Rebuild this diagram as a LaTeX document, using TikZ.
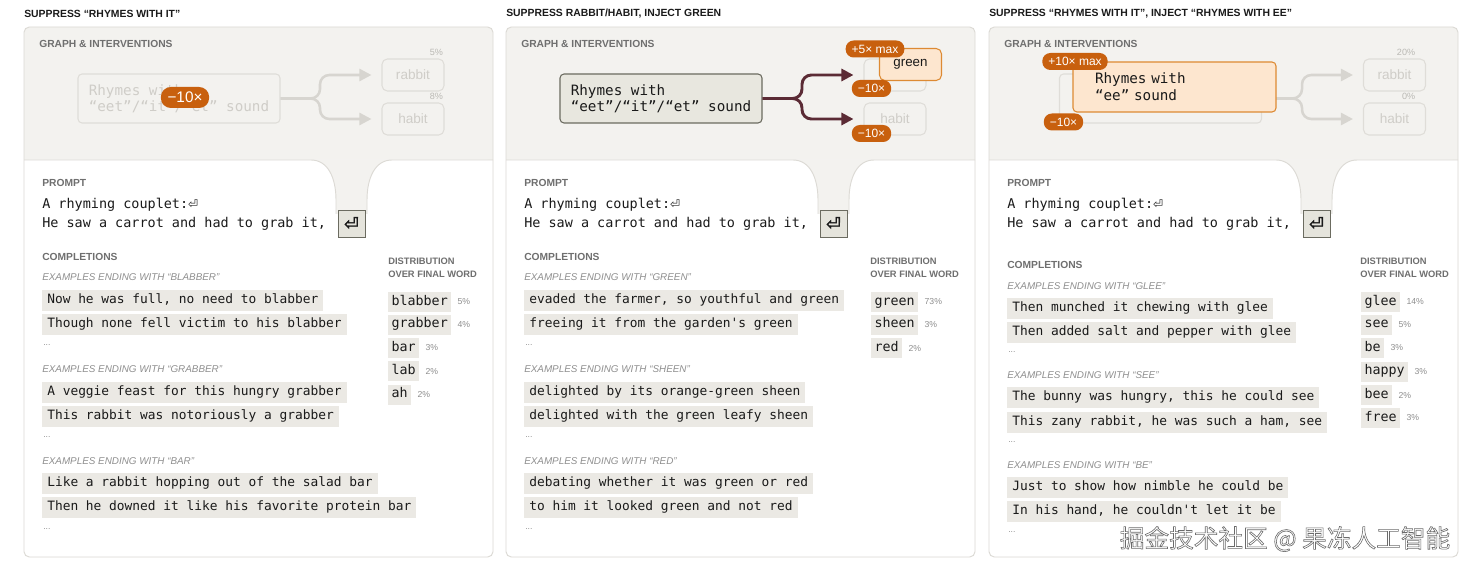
\documentclass[tikz,border=0pt]{standalone}
\usepackage{fontspec}
\setmainfont{Liberation Sans}
\newfontfamily\mono{DejaVu Sans Mono}[Ligatures=TeXOff]
\newfontfamily\symb{DejaVu Sans}
\newfontfamily\keyfont{DejaVu Sans}[FakeBold=2.5]
\newfontfamily\cjk{Noto Sans CJK SC}
\usepackage{tikz}
\usetikzlibrary{arrows.meta,positioning}

\definecolor{cardgray}{HTML}{F3F2EF}
\definecolor{cardline}{HTML}{DCDAD5}
\definecolor{chip}{HTML}{EBE9E4}
\definecolor{featfill}{HTML}{E8E7DF}
\definecolor{featline}{HTML}{6B6B60}
\definecolor{keyfill}{HTML}{E5E4DC}
\definecolor{orng}{HTML}{C8600E}
\definecolor{injfill}{HTML}{FDE6CF}
\definecolor{injline}{HTML}{DD8A33}
\definecolor{wirecol}{HTML}{5B2B35}
\definecolor{faintline}{HTML}{DFDDD8}
\definecolor{fainttext}{HTML}{CFCDC8}
\definecolor{faintwire}{HTML}{D7D5D0}
\definecolor{headgray}{HTML}{6F6F6F}
\definecolor{exgray}{HTML}{8F8F8F}
\definecolor{ink}{HTML}{1A1A1A}

\begin{document}
\begin{tikzpicture}[
  x=0.75pt, y=-0.75pt,
  cardedge/.style={draw=cardline, line width=0.7pt},
  title/.style={anchor=west, inner sep=0pt, text=ink, font=\bfseries\fontsize{7.8pt}{9pt}\selectfont},
  sect/.style={anchor=west, inner sep=0pt, text=headgray, font=\bfseries\fontsize{7.7pt}{9pt}\selectfont},
  dist/.style={anchor=west, inner sep=0pt, align=left, text=headgray, font=\bfseries\fontsize{7pt}{9.75pt}\selectfont},
  exhead/.style={anchor=west, inner sep=0pt, text=exgray, font=\itshape\fontsize{7.4pt}{8pt}\selectfont},
  dots/.style={anchor=west, inner sep=0pt, text=exgray, font=\fontsize{6.5pt}{7pt}\selectfont},
  compl/.style={anchor=west, fill=chip, inner xsep=3.75pt, inner ysep=0pt, minimum height=15.75pt,
    text height=7pt, text depth=2.2pt, text=ink, font=\mono\fontsize{9.65pt}{11pt}\selectfont},
  word/.style={anchor=west, fill=chip, inner xsep=2.5pt, inner ysep=0pt, minimum height=15pt,
    text height=7.3pt, text depth=2.3pt, text=ink, font=\mono\fontsize{10pt}{11pt}\selectfont},
  pct/.style={inner sep=0pt, text=exgray, font=\fontsize{6.5pt}{7pt}\selectfont},
  fpct/.style={inner sep=0pt, text=fainttext!90!black, font=\fontsize{6.8pt}{7pt}\selectfont},
  prompt/.style={anchor=west, inner sep=0pt, text=ink, font=\mono\fontsize{10.1pt}{12pt}\selectfont},
  enterkey/.style={draw=featline, fill=keyfill, line width=0.6pt, minimum size=20.25pt, inner sep=0pt,
    text=ink, font=\keyfont\fontsize{13pt}{13pt}\selectfont},
  feat/.style={draw=featline, fill=featfill, line width=0.8pt, rounded corners=3pt, minimum width=151.5pt,
    inner xsep=0pt, minimum height=36.75pt, align=left, text=ink, font=\mono\fontsize{10.7pt}{12pt}\selectfont},
  featfaint/.style={feat, draw=faintline, fill=cardgray, text=fainttext},
  inject/.style={feat, draw=injline, fill=injfill, text width=119.25pt, inner xsep=16.5pt,
    minimum height=37.5pt, font=\mono\fontsize{10.7pt}{12.75pt}\selectfont},
  outtok/.style={draw=faintline, line width=0.8pt, rounded corners=4pt, minimum width=46.5pt,
    minimum height=24pt, inner sep=0pt, text=fainttext, font=\fontsize{10.2pt}{12pt}\selectfont},
  injtok/.style={outtok, draw=injline, fill=injfill, text=ink, font=\fontsize{10pt}{12pt}\selectfont},
  badge/.style={fill=orng, text=white, rounded corners=6pt, inner xsep=4.5pt, inner ysep=0pt,
    minimum height=12.75pt, font=\fontsize{9pt}{10pt}\selectfont},
  bigbadge/.style={badge, rounded corners=7.5pt, minimum height=15.75pt, inner xsep=5pt,
    font=\fontsize{11.5pt}{12pt}\selectfont},
  feed/.style={draw=wirecol, line width=2.2pt, rounded corners=7pt,
    -{Triangle[length=9pt,width=9pt]}, shorten >=7.5pt},
  feedfaint/.style={feed, draw=faintwire, line width=1.9pt}
]
  \useasboundingbox (0,0) rectangle (1470,570);
  \fill[white] (0,0) rectangle (1470,570);

  % ---- panel 1: suppress ----
  \begin{scope}
  % card
  \fill[cardgray, rounded corners=4pt] (24,27) rectangle (493,557);
  \fill[white, rounded corners=4pt] (24,160) rectangle (493,557);
  \fill[white] (24,160) rectangle (493,190);
  \fill[cardgray] (311,160) .. controls (328,160) and (336,178) .. (336,200) -- (336,214)
    -- (367,214) -- (367,200) .. controls (367,178) and (375,160) .. (392,160) -- cycle;
  \draw[cardedge] (24,160) -- (311,160) .. controls (328,160) and (336,178) .. (336,200) -- (336,214);
  \draw[cardedge] (367,214) -- (367,200) .. controls (367,178) and (375,160) .. (392,160) -- (493,160);
  \draw[cardedge, rounded corners=4pt] (24,27) rectangle (493,557);

  \node[title] (t1) at (24,14) {SUPPRESS “RHYMES WITH IT”};
  \node[sect] (g1) at (39,44) {GRAPH \& INTERVENTIONS};

  % graph
  \node[featfaint] (f1) at (179,98.5) {Rhymes with\\“eet”/“it”/“et” sound};
  \node[outtok] (r1) at (413,75) {rabbit};
  \node[outtok] (h1) at (413,119) {habit};
  \node[fpct, above left=2pt and 1pt of r1.north east] (r1p) {5\%};
  \node[fpct, above left=2pt and 1pt of h1.north east] (h1p) {8\%};
  \coordinate (j1) at (320,98.5);
  \draw[feedfaint] (f1.east) -- (j1) |- (r1.west);
  \draw[feedfaint] (f1.east) -- (j1) |- (h1.west);
  \node[bigbadge] (b1) at (185,97.5) {−10×};

  % prompt
  \node[sect] (p1) at (42,183) {PROMPT};
  \node[prompt] (p1a) at (42,205) {A rhyming couplet:{\symb\fontsize{9pt}{9pt}\selectfont ⏎}};
  \node[prompt] (p1b) at (42,223.5) {He saw a carrot and had to grab it,};
  \node[enterkey] (k1) at (351.5,223.5) {⏎};

  % completions
  \node[sect] (c1) at (42,257) {COMPLETIONS};
  \node[exhead] (e1a) at (42,277) {EXAMPLES ENDING WITH “BLABBER”};
  \node[compl] (s1a) at (42,300.5) {Now he was full, no need to blabber};
  \node[compl] (s1b) at (42,324.5) {Though none fell victim to his blabber};
  \node[dots] (o1a) at (43,345) {...};
  \node[exhead] (e1b) at (42,369) {EXAMPLES ENDING WITH “GRABBER”};
  \node[compl] (s1c) at (42,392) {A veggie feast for this hungry grabber};
  \node[compl] (s1d) at (42,416.5) {This rabbit was notoriously a grabber};
  \node[dots] (o1b) at (43,437) {...};
  \node[exhead] (e1c) at (42,461) {EXAMPLES ENDING WITH “BAR”};
  \node[compl] (s1e) at (42,483.5) {Like a rabbit hopping out of the salad bar};
  \node[compl] (s1f) at (42,507.5) {Then he downed it like his favorite protein bar};
  \node[dots] (o1c) at (43,529) {...};

  % distribution
  \node[dist] (d1) at (388,267.5) {DISTRIBUTION\\OVER FINAL WORD};
  \node[word] (w1a) at (388,302) {blabber};
  \node[word] (w1b) at (388,324.5) {grabber};
  \node[word] (w1c) at (388,348) {bar};
  \node[word] (w1d) at (388,371) {lab};
  \node[word] (w1e) at (388,394.5) {ah};
  \node[pct, right=4.5pt of w1a] (w1ap) {5\%};
  \node[pct, right=4.5pt of w1b] (w1bp) {4\%};
  \node[pct, right=4.5pt of w1c] (w1cp) {3\%};
  \node[pct, right=4.5pt of w1d] (w1dp) {2\%};
  \node[pct, right=4.5pt of w1e] (w1ep) {2\%};
  \end{scope}

  % ---- panel 2: suppress rabbit/habit, inject green ----
  \begin{scope}[xshift=361.5pt]
  % card
  \fill[cardgray, rounded corners=4pt] (24,27) rectangle (493,557);
  \fill[white, rounded corners=4pt] (24,160) rectangle (493,557);
  \fill[white] (24,160) rectangle (493,190);
  \fill[cardgray] (311,160) .. controls (328,160) and (336,178) .. (336,200) -- (336,214)
    -- (367,214) -- (367,200) .. controls (367,178) and (375,160) .. (392,160) -- cycle;
  \draw[cardedge] (24,160) -- (311,160) .. controls (328,160) and (336,178) .. (336,200) -- (336,214);
  \draw[cardedge] (367,214) -- (367,200) .. controls (367,178) and (375,160) .. (392,160) -- (493,160);
  \draw[cardedge, rounded corners=4pt] (24,27) rectangle (493,557);

  \node[title] (t2) at (24,14) {SUPPRESS RABBIT/HABIT, INJECT GREEN};
  \node[sect] (g2) at (39,44) {GRAPH \& INTERVENTIONS};

  % graph
  \node[feat] (f2) at (179,98.5) {Rhymes with\\“eet”/“it”/“et” sound};
  \node[outtok] (r2) at (413,75) {};
  \node[outtok] (h2) at (413,119) {habit};
  \coordinate (j2) at (320,98.5);
  \draw[feed] (f2.east) -- (j2) |- (r2.west);
  \draw[feed] (f2.east) -- (j2) |- (h2.west);
  \node[injtok] (n2) at (428.5,64.5) {green};
  \node[badge] (b2a) at (393,49) {+5× max};
  \node[badge] (b2b) at (389.5,88.5) {−10×};
  \node[badge] (b2c) at (389.5,133.5) {−10×};

  % prompt
  \node[sect] (p2) at (42,183) {PROMPT};
  \node[prompt] (p2a) at (42,205) {A rhyming couplet:{\symb\fontsize{9pt}{9pt}\selectfont ⏎}};
  \node[prompt] (p2b) at (42,223.5) {He saw a carrot and had to grab it,};
  \node[enterkey] (k2) at (351.5,223.5) {⏎};

  % completions
  \node[sect] (c2) at (42,257) {COMPLETIONS};
  \node[exhead] (e2a) at (42,277) {EXAMPLES ENDING WITH “GREEN”};
  \node[compl] (s2a) at (42,300.5) {evaded the farmer, so youthful and green};
  \node[compl] (s2b) at (42,324.5) {freeing it from the garden's green};
  \node[dots] (o2a) at (43,345) {...};
  \node[exhead] (e2b) at (42,369) {EXAMPLES ENDING WITH “SHEEN”};
  \node[compl] (s2c) at (42,392) {delighted by its orange-green sheen};
  \node[compl] (s2d) at (42,416.5) {delighted with the green leafy sheen};
  \node[dots] (o2b) at (43,437) {...};
  \node[exhead] (e2c) at (42,461) {EXAMPLES ENDING WITH “RED”};
  \node[compl] (s2e) at (42,483.5) {debating whether it was green or red};
  \node[compl] (s2f) at (42,507.5) {to him it looked green and not red};
  \node[dots] (o2c) at (43,529) {...};

  % distribution
  \node[dist] (d2) at (388,267.5) {DISTRIBUTION\\OVER FINAL WORD};
  \node[word] (w2a) at (389,302) {green};
  \node[word] (w2b) at (389,324.5) {sheen};
  \node[word] (w2c) at (389,348) {red};
  \node[pct, right=4.5pt of w2a] (w2ap) {73\%};
  \node[pct, right=4.5pt of w2b] (w2bp) {3\%};
  \node[pct, right=4.5pt of w2c] (w2cp) {2\%};
  \end{scope}

  % ---- panel 3: suppress it, inject ee ----
  \begin{scope}[xshift=723.75pt]
  % card
  \fill[cardgray, rounded corners=4pt] (24,27) rectangle (493,557);
  \fill[white, rounded corners=4pt] (24,160) rectangle (493,557);
  \fill[white] (24,160) rectangle (493,190);
  \fill[cardgray] (311,160) .. controls (328,160) and (336,178) .. (336,200) -- (336,214)
    -- (367,214) -- (367,200) .. controls (367,178) and (375,160) .. (392,160) -- cycle;
  \draw[cardedge] (24,160) -- (311,160) .. controls (328,160) and (336,178) .. (336,200) -- (336,214);
  \draw[cardedge] (367,214) -- (367,200) .. controls (367,178) and (375,160) .. (392,160) -- (493,160);
  \draw[cardedge, rounded corners=4pt] (24,27) rectangle (493,557);

  \node[title] (t3) at (24,14) {SUPPRESS “RHYMES WITH IT”, INJECT “RHYMES WITH EE”};
  \node[sect] (g3) at (39,44) {GRAPH \& INTERVENTIONS};

  % graph
  \node[featfaint] (f3) at (195.5,98.5) {};
  \node[outtok] (r3) at (429.5,75) {rabbit};
  \node[outtok] (h3) at (429.5,119) {habit};
  \node[fpct, above left=2pt and 8pt of r3.north east] (r3p) {20\%};
  \node[fpct, above left=2pt and 8pt of h3.north east] (h3p) {0\%};
  \coordinate (j3) at (337,98.5);
  \draw[feedfaint] (f3.east) -- (j3) |- (r3.west);
  \draw[feedfaint] (f3.east) -- (j3) |- (h3.west);
  \node[inject] (i3) at (209.5,87) {Rhymes with\\“ee” sound};
  \node[badge] (b3a) at (110,61.5) {+10× max};
  \node[badge] (b3b) at (98.5,122) {−10×};

  % prompt
  \node[sect] (p3) at (42,183) {PROMPT};
  \node[prompt] (p3a) at (42,205) {A rhyming couplet:{\symb\fontsize{9pt}{9pt}\selectfont ⏎}};
  \node[prompt] (p3b) at (42,223.5) {He saw a carrot and had to grab it,};
  \node[enterkey] (k3) at (351.5,223.5) {⏎};

  % completions
  \node[sect] (c3) at (42,265) {COMPLETIONS};
  \node[exhead] (e3a) at (42,286) {EXAMPLES ENDING WITH “GLEE”};
  \node[compl] (s3a) at (42,308) {Then munched it chewing with glee};
  \node[compl] (s3b) at (42,332) {Then added salt and pepper with glee};
  \node[dots] (o3a) at (43,352.5) {...};
  \node[exhead] (e3b) at (42,375) {EXAMPLES ENDING WITH “SEE”};
  \node[compl] (s3c) at (42,397.5) {The bunny was hungry, this he could see};
  \node[compl] (s3d) at (42,422) {This zany rabbit, he was such a ham, see};
  \node[dots] (o3b) at (43,442.5) {...};
  \node[exhead] (e3c) at (42,465) {EXAMPLES ENDING WITH “BE”};
  \node[compl] (s3e) at (42,487) {Just to show how nimble he could be};
  \node[compl] (s3f) at (42,511.5) {In his hand, he couldn't let it be};
  \node[dots] (o3c) at (43,532) {...};

  % distribution
  \node[dist] (d3) at (395,267.5) {DISTRIBUTION\\OVER FINAL WORD};
  \node[word] (w3a) at (396,302) {glee};
  \node[word] (w3b) at (396,324.5) {see};
  \node[word] (w3c) at (396,348) {be};
  \node[word] (w3d) at (396,371.5) {happy};
  \node[word] (w3e) at (396,395) {bee};
  \node[word] (w3f) at (396,418) {free};
  \node[pct, right=4.5pt of w3a] (w3ap) {14\%};
  \node[pct, right=4.5pt of w3b] (w3bp) {5\%};
  \node[pct, right=4.5pt of w3c] (w3cp) {3\%};
  \node[pct, right=4.5pt of w3d] (w3dp) {3\%};
  \node[pct, right=4.5pt of w3e] (w3ep) {2\%};
  \node[pct, right=4.5pt of w3f] (w3fp) {3\%};
  \end{scope}

  % watermark
  \node[text=white, font=\cjk\fontsize{18.5pt}{19pt}\selectfont] (wm) at (1285,539)
    {\special{pdf:code 0.42 G 0.45 w 2 Tr}掘金技术社区 @ 果冻人工智能\special{pdf:code 0 Tr}};
\end{tikzpicture}
\end{document}
